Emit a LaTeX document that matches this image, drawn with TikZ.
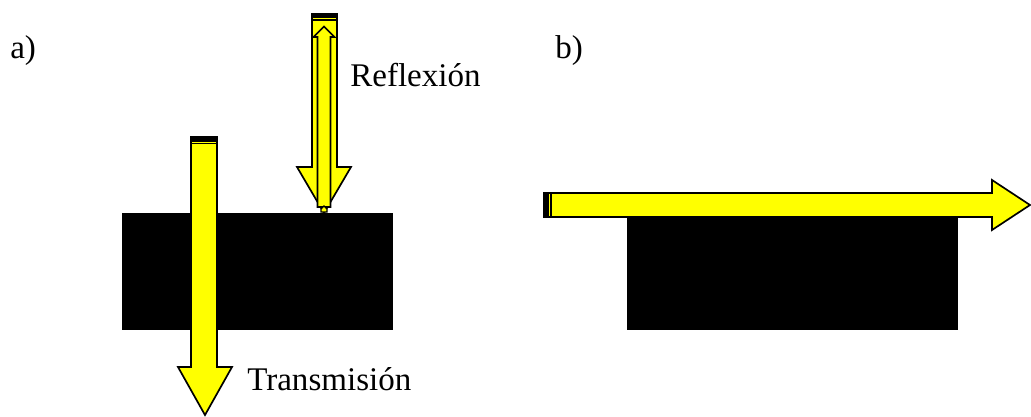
\documentclass[tikz,border=0pt]{standalone}
\usepackage{fontspec}
\setmainfont{Liberation Serif}
\newfontfamily\tagfont{Liberation Serif}
\usepackage{xcolor}
\definecolor{beamcol}{RGB}{255,255,0}

\begin{document}
\begin{tikzpicture}[
    x=0.025cm, y=-0.025cm,
    beam/.style={fill=beamcol, draw=black, line width=1.2pt, line join=miter},
    slab/.style={fill=black},
    tailband/.style={fill=black},
    tailline/.style={draw=black, line width=0.8pt},
    tag/.style={font=\tagfont\fontsize{23.5}{28}\selectfont, inner sep=0pt, anchor=base west},
]
\useasboundingbox (0,0) rectangle (1031,416);

% a) bloque con reflexion y transmision
\fill[slab] (122,213) rectangle (393,330);
\node[tag] (labA) at (10,58) {a)};

% haz transmitido
\draw[beam] (191,137) -- (217,137) -- (217,367) -- (232,367) -- (205,415)
    -- (178,367) -- (191,367) -- cycle;
\fill[tailband] (191,137) rectangle (217,141.5);
\draw[tailline] (191,143.5) -- (217,143.5);
\node[tag] (labT) at (247,390) {Transmisión};

% haz incidente y reflejado
\draw[beam] (312,14) -- (337,14) -- (337,167) -- (351,167) -- (324,213)
    -- (297,167) -- (312,167) -- cycle;
\fill[tailband] (312,14) rectangle (337,17.5);
\draw[tailline] (312,20) -- (337,20);
\draw[beam] (317.5,207) -- (317.5,37) -- (313.5,37) -- (324,26.5) -- (334.5,37)
    -- (330.5,37) -- (330.5,207) -- cycle;
\draw[beam, line width=0.8pt] (321,212) -- (321,209) -- (324,206) -- (327,209)
    -- (327,212) -- cycle;
\node[tag] (labR) at (350,86) {Reflexión};

% b) haz rasante sobre el bloque
\fill[slab] (627,217) rectangle (958,330);
\node[tag] (labB) at (555,58) {b)};
\draw[beam] (544,193) -- (992,193) -- (992,180) -- (1030,205) -- (992,230)
    -- (992,217) -- (544,217) -- cycle;
\fill[tailband] (544,193) rectangle (549,217);
\draw[tailline] (551,193) -- (551,217);
\end{tikzpicture}
\end{document}
